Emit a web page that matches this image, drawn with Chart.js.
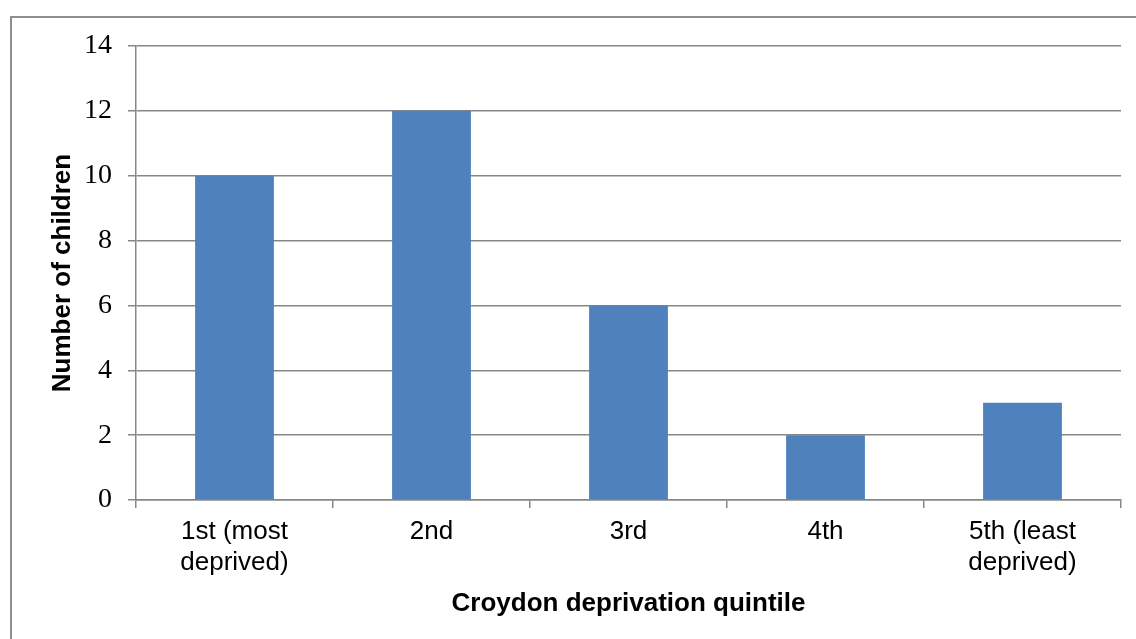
<!DOCTYPE html>
<html>
<head>
<meta charset="utf-8">
<title>Number of children by Croydon deprivation quintile</title>
<script src="https://cdn.jsdelivr.net/npm/chart.js@4/dist/chart.umd.min.js"></script>
<style>
  html, body { margin: 0; padding: 0; background: #ffffff; overflow: hidden; }
  #frame {
    position: absolute; left: 10px; top: 16px; width: 1200px; height: 700px;
    border-left: 2px solid #8e8e8e; border-top: 2px solid #8e8e8e;
    box-sizing: border-box;
  }
  #wrap { position: absolute; left: 0; top: 0; width: 1136px; height: 639px; }
</style>
</head>
<body>
<div id="frame"></div>
<div id="wrap"><canvas id="chart" width="1136" height="639"></canvas></div>
<script>
// Quintile categories (multi-line labels) and child counts
const quintiles = [
  ['1st (most', 'deprived)'],
  '2nd',
  '3rd',
  '4th',
  ['5th (least', 'deprived)']
];
const childCounts = [10, 12, 6, 2, 3];
const yTickValues = [0, 2, 4, 6, 8, 10, 12, 14];

const axisTitleFont = { family: '"Liberation Sans", Arial, sans-serif', size: 26, weight: 'bold', lineHeight: 1.2 };
const lineGrey = '#878787';

new Chart(document.getElementById('chart'), {
  type: 'bar',
  data: {
    labels: quintiles,
    datasets: [{
      data: childCounts,
      backgroundColor: '#4f81bd',
      borderWidth: 0,
      categoryPercentage: 1.0,
      barPercentage: 0.4
    }]
  },
  options: {
    responsive: false,
    animation: false,
    events: [],
    layout: { padding: { left: 40, top: 46, right: 15, bottom: 14 } },
    plugins: { legend: { display: false }, tooltip: { enabled: false } },
    scales: {
      x: {
        offset: true,
        grid: {
          offset: true,
          drawOnChartArea: false,
          drawTicks: true,
          tickLength: 8,
          color: lineGrey,
          lineWidth: 1.5
        },
        border: { display: true, color: lineGrey, width: 1.5 },
        ticks: {
          color: '#000000',
          padding: 8,
          maxRotation: 0,
          autoSkip: false,
          font: { family: '"Liberation Sans", Arial, sans-serif', size: 26, lineHeight: 1.2 }
        },
        title: {
          display: true,
          text: 'Croydon deprivation quintile',
          color: '#000000',
          font: axisTitleFont,
          padding: { top: 0, bottom: 6 }
        },
        afterFit: (scale) => { scale.height = 139 - 14; }
      },
      y: {
        min: 0,
        max: 14,
        afterBuildTicks: (scale) => { scale.ticks = yTickValues.map(v => ({ value: v })); },
        grid: {
          drawTicks: true,
          tickLength: 8,
          color: lineGrey,
          lineWidth: 1.5
        },
        border: { display: true, color: lineGrey, width: 1.5 },
        ticks: {
          color: '#000000',
          padding: 16,
          font: { family: '"Liberation Serif", "Times New Roman", serif', size: 28 }
        },
        title: {
          display: true,
          text: 'Number of children',
          color: '#000000',
          font: axisTitleFont,
          padding: { top: 7, bottom: 0 }
        },
        afterFit: (scale) => { scale.width = 136 - 40; }
      }
    }
  }
});
</script>
</body>
</html>
